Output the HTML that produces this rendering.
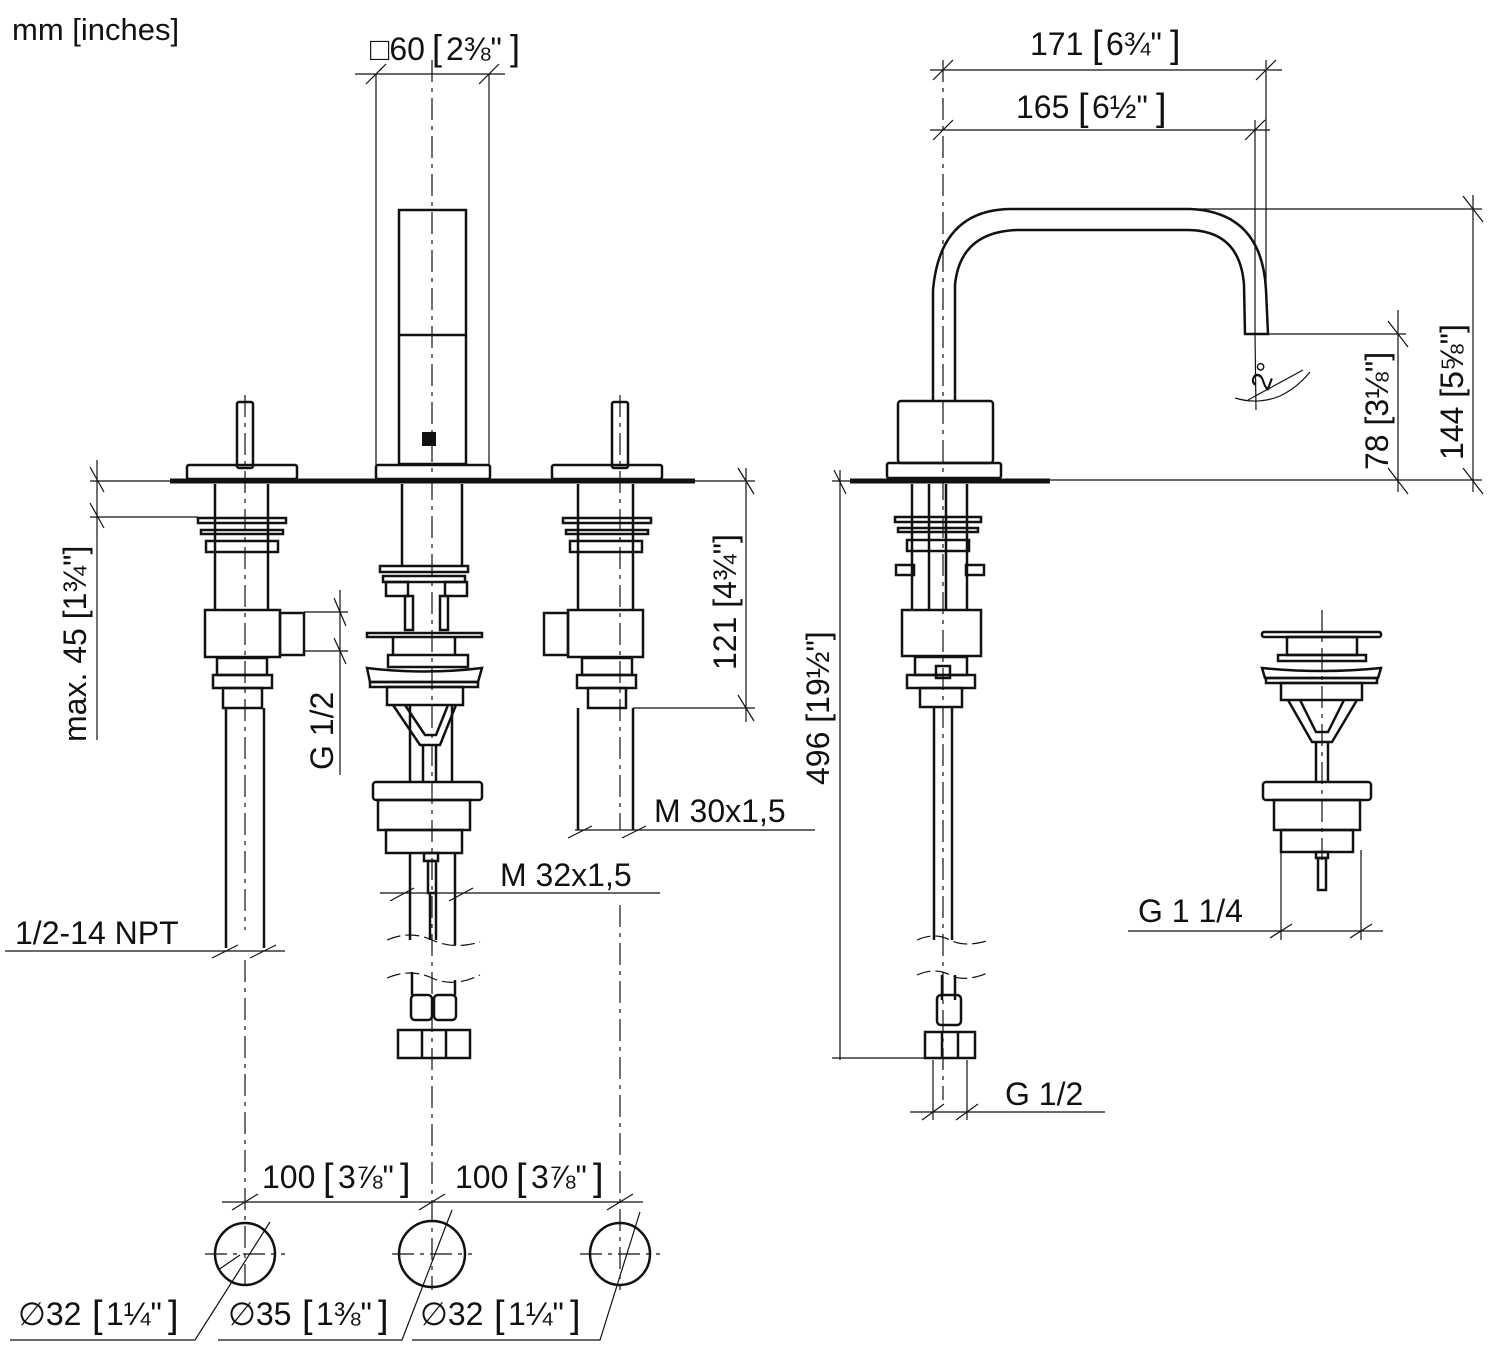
<!DOCTYPE html>
<html><head><meta charset="utf-8"><style>
html,body{margin:0;padding:0;background:#fff}
svg{display:block}
text{font-family:"Liberation Sans",sans-serif;fill:#111}
.p{fill:none;stroke:#111;stroke-width:2.5}
.t{fill:none;stroke:#111;stroke-width:1.2}
.c{fill:none;stroke:#111;stroke-width:1.2;stroke-dasharray:22 6 4 6}
</style></head><body>
<svg width="1500" height="1347" viewBox="0 0 1500 1347" xmlns="http://www.w3.org/2000/svg">
<text x="12" y="40" font-size="31">mm [inches]</text>

<line x1="170" y1="481" x2="695" y2="481" stroke="#111" stroke-width="5"/>
<line x1="850" y1="481" x2="1050" y2="481" stroke="#111" stroke-width="5"/>

<g class="p">
<rect x="237" y="402" width="16" height="66" rx="2"/>
<rect x="187" y="465" width="110" height="14" rx="2"/>
<line x1="215" y1="484" x2="215" y2="609"/><line x1="268" y1="484" x2="268" y2="609"/>
<rect x="198" y="518" width="88" height="5"/><rect x="201" y="530" width="82" height="4"/>
<rect x="206" y="541" width="72" height="11"/>
<rect x="205" y="610" width="75" height="47"/><rect x="280" y="613" width="24" height="42"/>
<rect x="217" y="658" width="50" height="17"/><rect x="213" y="675" width="59" height="13"/>
<rect x="223" y="688" width="39" height="20"/>
<line x1="226" y1="708" x2="226" y2="948"/><line x1="264" y1="708" x2="264" y2="948"/>
</g>
<line class="c" x1="245" y1="395" x2="245" y2="930"/>
<line class="c" x1="245" y1="960" x2="245" y2="1290"/>

<g class="p">
<rect x="399" y="210" width="67" height="254"/><line x1="399" y1="335" x2="466" y2="335"/>
<rect x="376" y="465" width="114" height="14" rx="2"/>
<line x1="402" y1="484" x2="402" y2="565"/><line x1="462" y1="484" x2="462" y2="565"/>
<rect x="380" y="566" width="88" height="6"/><rect x="383" y="576" width="82" height="6"/>
<rect x="386" y="582" width="22" height="14"/><rect x="445" y="582" width="22" height="14"/>
<rect x="405" y="596" width="8" height="34"/><rect x="440" y="596" width="8" height="34"/>
<rect x="367" y="633" width="115" height="4"/>
<line x1="393" y1="637" x2="393" y2="655"/><line x1="455" y1="637" x2="455" y2="655"/>
<rect x="388" y="655" width="80" height="12"/>
<path d="M367 668 Q425 675 482 668 L478 682 L370 682 Z"/>
<rect x="370" y="682" width="108" height="5"/>
<rect x="387" y="687" width="76" height="18"/>
<path d="M393 705 L420 745 L440 745 L456 705"/>
<path d="M405 705 L425 735 L436 735 L448 705"/>
<line x1="410" y1="705" x2="410" y2="782"/><line x1="452" y1="705" x2="452" y2="782"/>
<line x1="423" y1="745" x2="423" y2="782"/><line x1="436" y1="745" x2="436" y2="782"/>
<rect x="373" y="782" width="109" height="18" rx="3"/>
<rect x="378" y="800" width="92" height="30"/>
<rect x="386" y="830" width="76" height="23"/>
<rect x="424" y="853" width="14" height="8"/>
<rect x="428" y="861" width="8" height="32"/>
<line x1="410" y1="853" x2="410" y2="940"/><line x1="455" y1="853" x2="455" y2="945"/>
<line x1="430" y1="893" x2="430" y2="940"/><line x1="436" y1="893" x2="436" y2="940"/>
<path d="M412 972 L412 995 M455 980 L455 995"/>
<rect x="411" y="995" width="21" height="25" rx="4"/><rect x="434" y="995" width="22" height="25" rx="4"/>
<rect x="398" y="1030" width="72" height="28"/>
<line x1="422" y1="1030" x2="422" y2="1058"/><line x1="446" y1="1030" x2="446" y2="1058"/>
</g>
<rect x="422" y="432" width="14" height="14" fill="#111"/>
<line class="c" x1="432" y1="60" x2="432" y2="1290"/>
<path class="t" d="M387 940 Q410 930 432 940 T480 942" stroke-dasharray="14 5"/>
<path class="t" d="M387 978 Q410 968 432 978 T480 975" stroke-dasharray="14 5"/>

<g class="p">
<rect x="612" y="402" width="16" height="66" rx="2"/>
<rect x="552" y="465" width="110" height="14" rx="2"/>
<line x1="578" y1="484" x2="578" y2="609"/><line x1="633" y1="484" x2="633" y2="609"/>
<rect x="563" y="518" width="88" height="5"/><rect x="566" y="530" width="82" height="4"/>
<rect x="570" y="541" width="72" height="11"/>
<rect x="568" y="610" width="75" height="47"/><rect x="544" y="613" width="24" height="42"/>
<rect x="582" y="658" width="50" height="17"/><rect x="577" y="675" width="59" height="13"/>
<rect x="588" y="688" width="38" height="20"/>
<line x1="578" y1="708" x2="578" y2="830"/><line x1="633" y1="708" x2="633" y2="830"/>
</g>
<line class="c" x1="620" y1="395" x2="620" y2="830"/>
<line class="c" x1="620" y1="905" x2="620" y2="1290"/>

<g class="p">
<path d="M933 401 L933 290 Q940 209 1012 209 L1190 209 Q1262 212 1266 290 L1268 334 L1245 334 L1244 285 Q1240 230 1187 230 L1017 230 Q960 232 955 285 L955 401"/>
<rect x="898" y="401" width="95" height="62" rx="3"/>
<rect x="887" y="463" width="114" height="15" rx="2"/>
<line x1="912" y1="484" x2="912" y2="609"/><line x1="967" y1="484" x2="967" y2="609"/>
<line x1="929" y1="484" x2="929" y2="609"/><line x1="946" y1="484" x2="946" y2="609"/>
<rect x="895" y="517" width="86" height="5"/><rect x="898" y="528" width="80" height="4"/>
<rect x="907" y="540" width="62" height="11"/>
<rect x="896" y="565" width="18" height="10"/><rect x="966" y="565" width="18" height="10"/>
<rect x="902" y="610" width="79" height="46"/>
<rect x="915" y="657" width="52" height="18"/><rect x="907" y="675" width="68" height="13"/>
<rect x="920" y="688" width="42" height="19"/>
<rect x="936" y="666" width="14" height="12"/>
<line x1="934" y1="707" x2="934" y2="940"/><line x1="952" y1="707" x2="952" y2="940"/>
<line x1="942" y1="975" x2="942" y2="1000"/><line x1="955" y1="975" x2="955" y2="1000"/>
<rect x="937" y="995" width="24" height="30" rx="4"/>
<rect x="925" y="1032" width="50" height="26"/>
<line x1="942" y1="1032" x2="942" y2="1058"/><line x1="958" y1="1032" x2="958" y2="1058"/>
</g>
<line class="c" x1="943" y1="60" x2="943" y2="1100"/>
<path class="t" d="M917 940 Q935 932 950 940 T990 940" stroke-dasharray="14 5"/>
<path class="t" d="M917 975 Q935 967 950 975 T990 972" stroke-dasharray="14 5"/>

<g class="p">
<rect x="1262" y="632" width="119" height="5" rx="2"/>
<rect x="1287" y="637" width="70" height="18"/>
<rect x="1278" y="655" width="88" height="6"/>
<path d="M1262 668 Q1322 674 1381 668 L1378 678 L1265 678 Z"/>
<rect x="1266" y="678" width="111" height="5"/>
<rect x="1281" y="683" width="81" height="17"/>
<path d="M1288 700 L1312 742 L1332 742 L1357 700"/>
<path d="M1300 700 L1316 732 L1328 732 L1344 700"/>
<line x1="1316" y1="742" x2="1316" y2="782"/><line x1="1328" y1="742" x2="1328" y2="782"/>
<rect x="1263" y="782" width="108" height="18" rx="3"/>
<rect x="1274" y="800" width="86" height="30"/>
<rect x="1281" y="830" width="72" height="22"/>
<rect x="1316" y="852" width="12" height="6"/>
<rect x="1318" y="858" width="8" height="32"/>
</g>
<line class="c" x1="1322" y1="610" x2="1322" y2="860"/>

<g class="p">
<ellipse cx="245" cy="1254" rx="30" ry="31"/>
<ellipse cx="432" cy="1254" rx="33" ry="33"/>
<ellipse cx="620" cy="1254" rx="30" ry="31"/>
</g>
<g class="c"><line x1="205" y1="1254" x2="285" y2="1254"/><line x1="392" y1="1254" x2="472" y2="1254"/><line x1="580" y1="1254" x2="660" y2="1254"/></g>

<g class="t">
<line x1="355" y1="74" x2="505" y2="74"/><line x1="376" y1="74" x2="376" y2="465"/><line x1="489" y1="74" x2="489" y2="465"/>
<line x1="366" y1="84" x2="386" y2="64"/><line x1="479" y1="84" x2="499" y2="64"/>
<line x1="930" y1="70" x2="1282" y2="70"/><line x1="930" y1="130" x2="1270" y2="130"/>
<line x1="1255" y1="120" x2="1255" y2="333"/><line x1="1266" y1="60" x2="1266" y2="300"/>
<line x1="933" y1="80" x2="953" y2="60"/><line x1="1256" y1="80" x2="1276" y2="60"/>
<line x1="933" y1="140" x2="953" y2="120"/><line x1="1245" y1="140" x2="1265" y2="120"/>
<line x1="1190" y1="209" x2="1482" y2="209"/><line x1="1268" y1="334" x2="1406" y2="334"/>
<line x1="1050" y1="480" x2="1482" y2="480"/>
<line x1="1473" y1="195" x2="1473" y2="492"/><line x1="1398" y1="310" x2="1398" y2="492"/>
<line x1="1463" y1="196" x2="1483" y2="222"/><line x1="1463" y1="468" x2="1483" y2="494"/>
<line x1="1388" y1="321" x2="1408" y2="347"/><line x1="1388" y1="468" x2="1408" y2="494"/>
<line x1="1255" y1="334" x2="1256" y2="410"/><line x1="1248" y1="400" x2="1303" y2="370"/>
<path d="M1235 398 Q1258 405 1280 396 Q1297 388 1310 372"/>
<line x1="90" y1="481" x2="170" y2="481"/><line x1="90" y1="517" x2="198" y2="517"/>
<line x1="97" y1="460" x2="97" y2="740"/>
<line x1="90" y1="467" x2="104" y2="492"/><line x1="90" y1="503" x2="104" y2="528"/>
<line x1="304" y1="612" x2="348" y2="612"/><line x1="304" y1="651" x2="348" y2="651"/>
<line x1="340" y1="590" x2="340" y2="775"/>
<line x1="334" y1="598" x2="346" y2="626"/><line x1="334" y1="638" x2="346" y2="664"/>
<line x1="695" y1="481" x2="755" y2="481"/><line x1="633" y1="708" x2="755" y2="708"/>
<line x1="746" y1="468" x2="746" y2="722"/>
<line x1="738" y1="468" x2="754" y2="494"/><line x1="738" y1="695" x2="754" y2="721"/>
<line x1="575" y1="830" x2="815" y2="830"/>
<line x1="568" y1="838" x2="592" y2="826"/><line x1="622" y1="838" x2="646" y2="826"/>
<line x1="380" y1="893" x2="660" y2="893"/>
<line x1="390" y1="901" x2="414" y2="888"/><line x1="449" y1="901" x2="473" y2="888"/>
<line x1="5" y1="951" x2="285" y2="951"/>
<line x1="212" y1="958" x2="238" y2="945"/><line x1="250" y1="958" x2="276" y2="945"/>
<line x1="832" y1="481" x2="850" y2="481"/><line x1="832" y1="1058" x2="925" y2="1058"/>
<line x1="840" y1="470" x2="840" y2="1060"/>
<line x1="834" y1="470" x2="846" y2="494"/>
<line x1="933" y1="1060" x2="933" y2="1120"/><line x1="967" y1="1060" x2="967" y2="1120"/>
<line x1="910" y1="1112" x2="1105" y2="1112"/>
<line x1="922" y1="1120" x2="944" y2="1104"/><line x1="956" y1="1120" x2="978" y2="1104"/>
<line x1="1281" y1="850" x2="1281" y2="940"/><line x1="1361" y1="850" x2="1361" y2="940"/>
<line x1="1128" y1="931" x2="1383" y2="931"/>
<line x1="1270" y1="938" x2="1292" y2="924"/><line x1="1350" y1="938" x2="1372" y2="924"/>
<line x1="222" y1="1202" x2="643" y2="1202"/>
<line x1="232" y1="1210" x2="258" y2="1194"/><line x1="419" y1="1210" x2="445" y2="1194"/><line x1="607" y1="1210" x2="633" y2="1194"/>
<path d="M10 1340 L195 1340 L270 1222"/><path d="M218 1270 L240 1255"/>
<path d="M218 1340 L402 1340 L452 1210"/>
<path d="M412 1340 L600 1340 L640 1212"/>
</g>

<g font-size="32">
<text x="370" y="60">□60</text><text x="432" y="60" font-size="36">[</text><text x="446" y="60">2⅜"</text><text x="510" y="60" font-size="36">]</text>
<text x="1030" y="55">171</text><text x="1092" y="57" font-size="38">[</text><text x="1106" y="55">6¾"</text><text x="1170" y="57" font-size="38">]</text>
<text x="1016" y="118">165</text><text x="1078" y="120" font-size="38">[</text><text x="1092" y="118">6½"</text><text x="1156" y="120" font-size="38">]</text>
<text x="654" y="822">M 30x1,5</text>
<text x="500" y="886">M 32x1,5</text>
<text x="15" y="944">1/2-14 NPT</text>
<text x="1005" y="1105">G 1/2</text>
<text x="1138" y="922">G 1 1/4</text>
<text x="262" y="1188">100</text><text x="323" y="1190" font-size="38">[</text><text x="338" y="1188">3⅞"</text><text x="400" y="1190" font-size="38">]</text>
<text x="455" y="1188">100</text><text x="516" y="1190" font-size="38">[</text><text x="531" y="1188">3⅞"</text><text x="593" y="1190" font-size="38">]</text>
<text x="18" y="1325">∅32</text><text x="92" y="1327" font-size="38">[</text><text x="106" y="1325">1¼"</text><text x="168" y="1327" font-size="38">]</text>
<text x="228" y="1325">∅35</text><text x="302" y="1327" font-size="38">[</text><text x="316" y="1325">1⅜"</text><text x="378" y="1327" font-size="38">]</text>
<text x="420" y="1325">∅32</text><text x="494" y="1327" font-size="38">[</text><text x="508" y="1325">1¼"</text><text x="570" y="1327" font-size="38">]</text>
<text transform="translate(86,742) rotate(-90)">max. 45 [1¾"]</text>
<text transform="translate(333,770) rotate(-90)">G 1/2</text>
<text transform="translate(736,670) rotate(-90)">121 [4¾"]</text>
<text transform="translate(829,785) rotate(-90)">496 [19½"]</text>
<text transform="translate(1388,470) rotate(-90)">78 [3⅛"]</text>
<text transform="translate(1463,460) rotate(-90)">144 [5⅝"]</text>
<text transform="translate(1268,392) rotate(-70)" font-size="28">2°</text>
</g>
</svg>
</body></html>
